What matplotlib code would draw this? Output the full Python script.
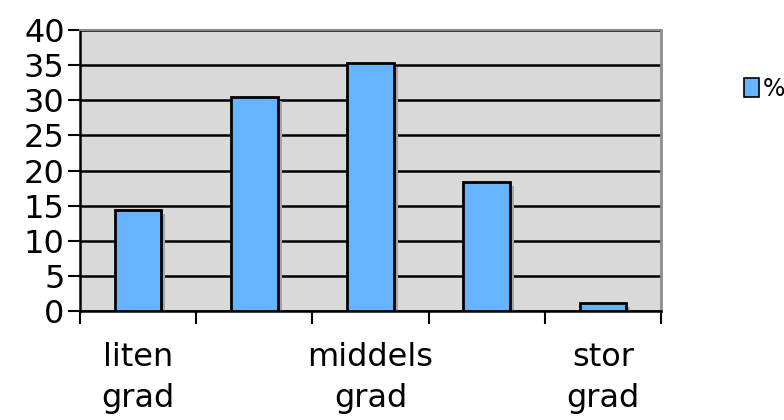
import matplotlib
matplotlib.use("Agg")
import matplotlib.pyplot as plt
import matplotlib.transforms as mtransforms
from matplotlib.patches import Patch

categories = ["liten\ngrad", "", "middels\ngrad", "", "stor\ngrad"]
percent = [14.4, 30.4, 35.3, 18.4, 1.2]
y_ticks = [0, 5, 10, 15, 20, 25, 30, 35, 40]

plt.rcParams["font.family"] = ["DejaVu Sans"]

fig = plt.figure(figsize=(7.84, 4.2), dpi=100)
ax = fig.add_axes([80 / 784, 1 - 311 / 420, 581 / 784, 281 / 420])
ax.set_facecolor("#d9d9d9")

x = list(range(len(percent)))

# drop shadow, shifted a few pixels right/down
shadow = mtransforms.offset_copy(ax.transData, fig=fig, x=4, y=-4, units="dots")
ax.bar(x, percent, width=0.4, color="#a6a6a6", transform=shadow, zorder=2)
ax.bar(x, percent, width=0.4, color="#66b3ff", edgecolor="black",
       linewidth=2, zorder=3)

ax.set_xlim(-0.5, len(percent) - 0.5)
ax.set_ylim(0, 40)
ax.set_yticks(y_ticks)
ax.yaxis.grid(True, color="black", linewidth=1.8)
ax.set_axisbelow(True)

# ticks at category boundaries, labels at category centres
ax.set_xticks([i - 0.5 for i in range(len(percent) + 1)])
ax.set_xticklabels([])
ax.set_xticks(x, minor=True)
ax.set_xticklabels(categories, minor=True, fontsize=23, linespacing=1.45)
ax.tick_params(axis="x", which="minor", length=0, pad=22)
ax.tick_params(axis="x", which="major", length=9, width=1.5, color="black")
ax.tick_params(axis="y", length=9, width=1.5, labelsize=23, pad=2)
for lbl in ax.get_yticklabels():
    lbl.set_va("center_baseline")

for side in ("left", "bottom"):
    ax.spines[side].set_linewidth(1.8)
ax.spines["top"].set_color("#8c8c8c")
ax.spines["right"].set_color("#8c8c8c")
ax.spines["top"].set_linewidth(1.5)
ax.spines["right"].set_linewidth(2)

handles = [Patch(facecolor="#66b3ff", edgecolor="black", linewidth=1.2, label="%")]
fig.legend(handles=handles, loc="center left", bbox_to_anchor=(744 / 784, 1 - 89 / 420),
           frameon=False, fontsize=17, handlelength=0.65, handleheight=0.85,
           handletextpad=0.15, borderaxespad=0, borderpad=0)

fig.savefig("out.png", dpi=100)
